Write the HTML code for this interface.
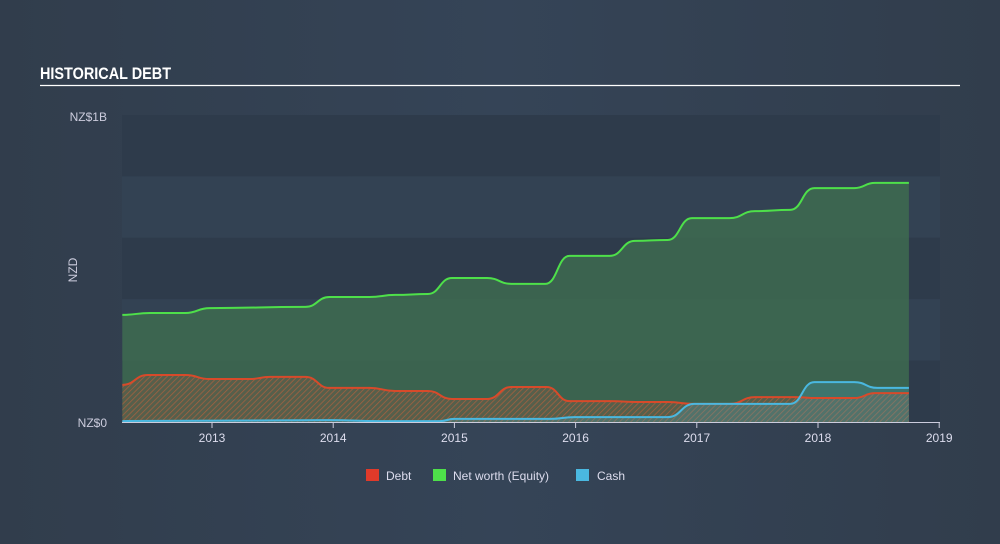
<!DOCTYPE html>
<html><head><meta charset="utf-8"><style>
body{margin:0;background:#333f4f;font-family:"Liberation Sans",sans-serif;}
svg{display:block}
</style></head><body>
<svg width="1000" height="544" xmlns="http://www.w3.org/2000/svg">
<defs>
<linearGradient id="bg" x1="0" y1="0" x2="1" y2="0"><stop offset="0" stop-color="#313d4c"/><stop offset="0.5" stop-color="#354457"/><stop offset="1" stop-color="#313d4c"/></linearGradient>
<pattern id="hatch" width="4" height="4" patternUnits="userSpaceOnUse" patternTransform="rotate(45)"><rect width="4" height="4" fill="rgba(120,90,70,0.45)"/><line x1="0" y1="0" x2="0" y2="4" stroke="#c0603a" stroke-width="1.4" opacity="0.8"/></pattern>
<pattern id="hatch2" width="4" height="4" patternUnits="userSpaceOnUse" patternTransform="rotate(45)"><rect width="4" height="4" fill="rgba(90,110,110,0.5)"/><line x1="0" y1="0" x2="0" y2="4" stroke="#9aa" stroke-width="1.2" opacity="0.6"/></pattern>
</defs>
<rect width="1000" height="544" fill="url(#bg)"/>
<text x="40" y="79" fill="#fff" font-size="17" font-weight="bold" transform="scale(0.85,1)" style="transform-origin:40px 79px">HISTORICAL DEBT</text>
<line x1="40" y1="85.5" x2="960" y2="85.5" stroke="#fff" stroke-width="1.2"/>
<g id="bands"></g>
<g id="plot"></g>
<text x="107" y="121" fill="#ccd" font-size="12" text-anchor="end">NZ$1B</text>
<text x="107" y="427" fill="#ccd" font-size="12" text-anchor="end">NZ$0</text>
<text x="0" y="0" fill="#ccd" font-size="12" text-anchor="middle" transform="translate(77,270) rotate(-90)">NZD</text>
<g id="xaxis"></g>
<g>
<rect x="366" y="469" width="13" height="12" fill="#e03a2a"/>
<text x="386" y="480" fill="#dde" font-size="12">Debt</text>
<rect x="433" y="469" width="13" height="12" fill="#4ee04a"/>
<text x="453" y="480" fill="#dde" font-size="12">Net worth (Equity)</text>
<rect x="576" y="469" width="13" height="12" fill="#4ab8e0"/>
<text x="597" y="480" fill="#dde" font-size="12">Cash</text>
</g>
</svg>
<script>
const equityT=[2012.26,2012.49,2012.78,2012.98,2013.77,2013.97,2014.30,2014.51,2014.78,2014.98,2015.27,2015.47,2015.75,2015.95,2016.28,2016.49,2016.76,2016.96,2017.27,2017.48,2017.77,2017.97,2018.30,2018.47,2018.75];
const equityV=[349,355,355,371,375,407,407,414,417,469,469,450,450,541,541,590,593,664,664,687,691,762,762,779,779];
const debtT=[2012.26,2012.47,2012.78,2012.98,2013.31,2013.48,2013.77,2013.97,2014.30,2014.51,2014.78,2014.98,2015.27,2015.47,2015.76,2015.95,2016.28,2016.53,2016.76,2016.98,2017.27,2017.48,2017.81,2017.99,2018.30,2018.47,2018.75];
const debtV=[121,153,153,140,140,147,147,111,111,101,101,75,75,114,114,68,68,65,65,59,59,81,81,78,78,94,94];
const cashT=[2012.26,2013.97,2014.38,2014.88,2015.0,2015.79,2015.99,2016.76,2016.98,2017.77,2017.97,2018.30,2018.49,2018.75];
const cashV=[3,6,3,3,10,10,16,16,59,59,130,130,111,111];
const yearTicks=[2013,2014,2015,2016,2017,2018,2019];
const yMax=1000;
const X0=122,X1=940,Y0=422,Y1=115;
const xs=t=>212+(t-2013)*121.2;
const ys=v=>Y0-(v/yMax)*(Y0-Y1);
const NS='http://www.w3.org/2000/svg';
function mk(tag,attrs,parent){const e=document.createElementNS(NS,tag);for(const k in attrs)e.setAttribute(k,attrs[k]);parent.appendChild(e);return e;}
const bands=document.getElementById('bands');
for(let i=0;i<5;i++){const r=mk('rect',{x:X0,y:Y1+i*61.4,width:X1-X0,height:61.4,fill:i%2==0?'#2e3b4b':'#334253'},bands);

}
function path(T,V){let d='M'+xs(T[0])+','+ys(V[0]);for(let i=1;i<T.length;i++){const x0=xs(T[i-1]),x1=xs(T[i]),m=(x0+x1)/2;d+=' C'+m+','+ys(V[i-1])+' '+m+','+ys(V[i])+' '+x1+','+ys(V[i]);}return d;}
function area(T,V){return path(T,V)+' L'+xs(T[T.length-1])+','+Y0+' L'+xs(T[0])+','+Y0+'Z';}
const plot=document.getElementById('plot');
let e;
e=mk('path',{d:area(equityT,equityV),fill:'rgba(62,110,80,0.8)'},plot);


e=mk('path',{d:area(debtT,debtV),fill:'url(#hatch)'},plot);


e=mk('path',{d:area(cashT,cashV),fill:'rgba(70,170,200,0.25)'},plot);


e=mk('path',{d:path(equityT,equityV),fill:'none',stroke:'#4ee04a','stroke-width':2},plot);


e=mk('path',{d:path(debtT,debtV),fill:'none',stroke:'#d84a2a','stroke-width':2},plot);


e=mk('path',{d:path(cashT,cashV),fill:'none',stroke:'#4ab8e0','stroke-width':2},plot);


const xa=document.getElementById('xaxis');
e=mk('line',{x1:X0,y1:Y0+0.5,x2:X1,y2:Y0+0.5,stroke:'#ccd','stroke-width':1},xa);


yearTicks.forEach(y=>{const x=xs(y);
const l=mk('line',{x1:x,y1:Y0,x2:x,y2:Y0+6,stroke:'#ccd'},xa);


const t=mk('text',{x:x,y:Y0+20,fill:'#dde','font-size':12,'text-anchor':'middle'},xa);
t.textContent=y;

});
</script>
</body></html>
